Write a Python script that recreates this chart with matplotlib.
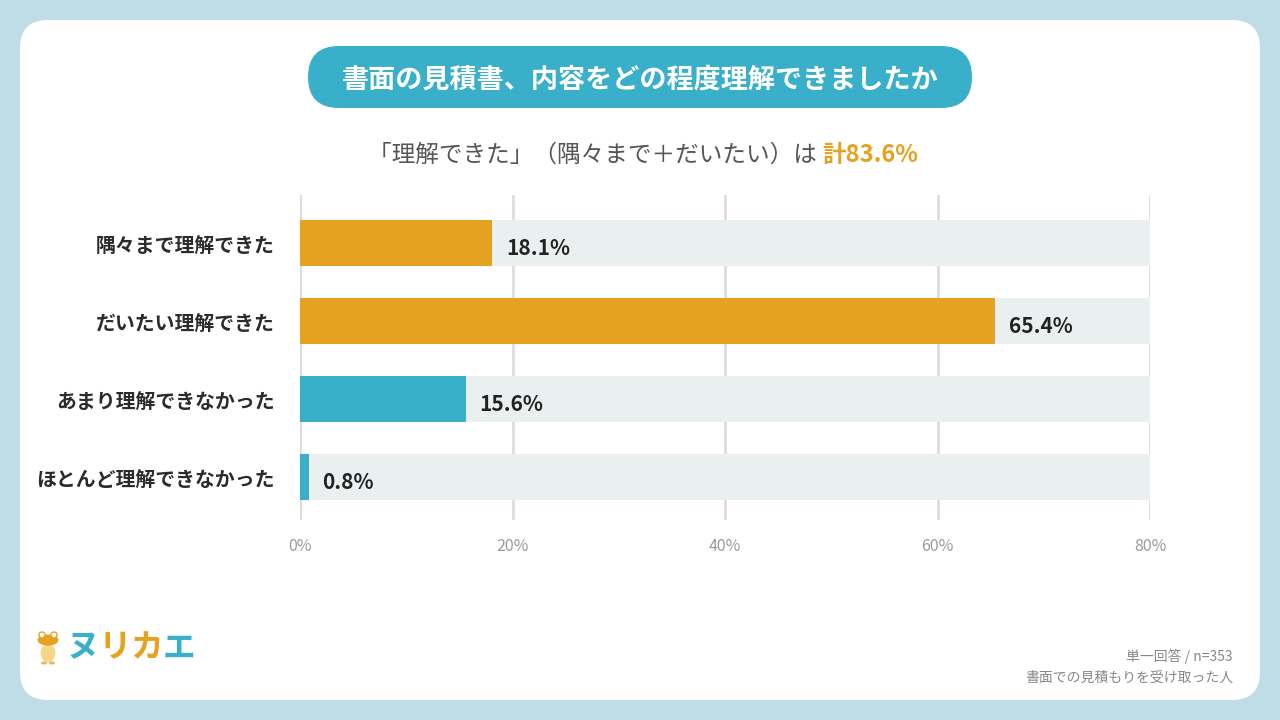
import matplotlib
matplotlib.use("Agg")
import matplotlib.pyplot as plt
from matplotlib.patches import FancyBboxPatch, Ellipse, Circle

plt.rcParams['font.family'] = ['Noto Sans CJK JP', 'DejaVu Sans']

# ---- data ----
categories = ["隅々まで理解できた", "だいたい理解できた", "あまり理解できなかった", "ほとんど理解できなかった"]
values = [18.1, 65.4, 15.6, 0.8]
bar_colors = ["#E5A220", "#E5A220", "#3AAFC9", "#3AAFC9"]
xticks = [0, 20, 40, 60, 80]
xtick_labels = ["0%", "20%", "40%", "60%", "80%"]
title = "書面の見積書、内容をどの程度理解できましたか"
subtitle_main = "「理解できた」（隅々まで＋だいたい）は "
subtitle_hl = "計83.6%"
footer1 = "単一回答 / n=353"
footer2 = "書面での見積もりを受け取った人"

TEAL = "#3AAFC9"
ORANGE = "#E5A220"

fig = plt.figure(figsize=(12.8, 7.2), dpi=100)
fig.patch.set_facecolor("#BFDDE5")

# background layer in pixel coordinates
bg = fig.add_axes([0, 0, 1, 1])
bg.set_xlim(0, 1280)
bg.set_ylim(720, 0)
bg.axis("off")
bg.add_patch(FancyBboxPatch((20, 20), 1240, 680,
                            boxstyle="round,pad=0,rounding_size=28",
                            fc="white", ec="none"))
bg.add_patch(FancyBboxPatch((308, 46), 664, 62,
                            boxstyle="round,pad=0,rounding_size=31",
                            fc=TEAL, ec="none"))
bg.text(640, 80, title, ha="center", va="center", color="white",
        fontsize=19.5, fontweight="bold")

t = bg.text(368, 155, subtitle_main, ha="left", va="center", color="#555555",
            fontsize=17)
bg.annotate(subtitle_hl, xy=(1, 0), xycoords=t, ha="left", va="bottom",
            color=ORANGE, fontsize=17, fontweight="bold")

bg.text(1233, 656, footer1, ha="right", va="center", color="#888888", fontsize=10)
bg.text(1233, 678, footer2, ha="right", va="center", color="#888888", fontsize=10)

# logo
frog_x, frog_y = 48, 648
bg.add_patch(Ellipse((frog_x, frog_y + 5), 15, 19, fc="#F7D58A", ec="none"))
bg.add_patch(Ellipse((frog_x - 4, frog_y + 15), 6, 3, fc="#F0B84A", ec="none"))
bg.add_patch(Ellipse((frog_x + 4, frog_y + 15), 6, 3, fc="#F0B84A", ec="none"))
bg.add_patch(Ellipse((frog_x, frog_y - 8), 21, 11, fc=ORANGE, ec="none"))
bg.add_patch(Circle((frog_x - 6, frog_y - 13), 3, fc="white", ec=ORANGE, lw=1))
bg.add_patch(Circle((frog_x + 6, frog_y - 13), 3, fc="white", ec=ORANGE, lw=1))
logo_chars = ["ヌ", "リ", "カ", "エ"]
logo_cols = [TEAL, ORANGE, ORANGE, TEAL]
for i, (ch, c) in enumerate(zip(logo_chars, logo_cols)):
    bg.text(83 + i * 32, 648, ch, ha="center", va="center", color=c,
            fontsize=23.5, fontweight="bold")

# main chart axes
W, H = 1280, 720
ax = fig.add_axes([300 / W, 1 - 520 / H, 850 / W, 325 / H])
ax.set_xlim(0, 80)
ax.set_ylim(3.551, -0.615)
ax.set_facecolor("none")
y = list(range(len(categories)))
ax.barh(y, [80] * len(y), height=0.58, color="#EAF0F0", zorder=2)
ax.barh(y, values, height=0.58, color=bar_colors, zorder=3)
for yi, v in zip(y, values):
    ax.annotate(f"{v}%", xy=(v, yi), xytext=(10, -4), textcoords="offset points",
                ha="left", va="center", fontsize=15, fontweight="bold",
                color="#222222", zorder=4)
ax.set_xticks(xticks)
ax.set_xticklabels(xtick_labels, color="#999999", fontsize=11.5)
ax.set_yticks(y)
ax.set_yticklabels(categories, fontsize=14.3, fontweight="bold", color="#2b2b2b")
ax.tick_params(axis="both", length=0)
ax.tick_params(axis="x", pad=13)
ax.tick_params(axis="y", pad=18)
ax.grid(axis="x", color="#DDDDDD", lw=2, zorder=1)
ax.set_axisbelow(True)
for s in ax.spines.values():
    s.set_visible(False)

fig.savefig("out.png", dpi=100, facecolor=fig.get_facecolor())
